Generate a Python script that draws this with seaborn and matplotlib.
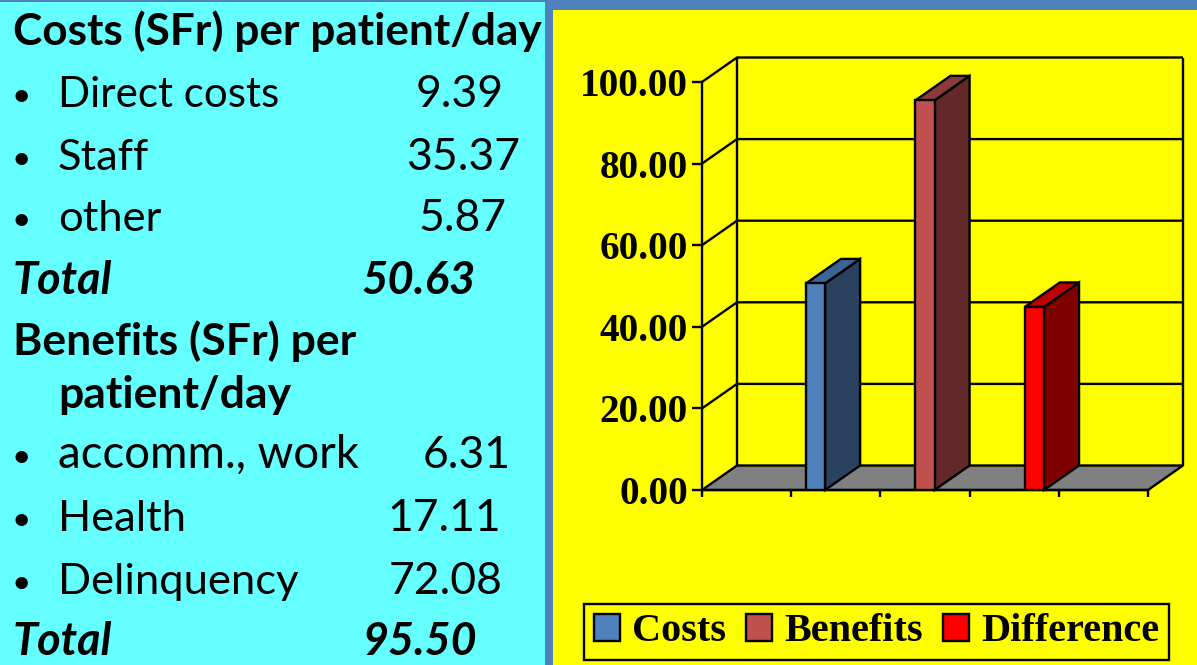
import matplotlib
matplotlib.use("Agg")
import matplotlib.pyplot as plt
import pandas as pd
import seaborn as sns
from matplotlib.patches import Polygon, Rectangle

# chart values
series = ["Costs", "Benefits", "Difference"]
values = [50.63, 95.50, 44.87]
front_colors = ["#4F81BD", "#C0504D", "#FF0000"]
side_colors = ["#2A4160", "#632829", "#800000"]
top_colors = ["#3A6594", "#8C3A3C", "#C00000"]
y_ticks = [0, 20, 40, 60, 80, 100]

# text panel
cost_labels = ["Direct costs", "Staff", "other"]
cost_values = ["9.39", "35.37", "5.87"]
benefit_labels = ["accomm., work", "Health", "Delinquency"]
benefit_values = ["6.31", "17.11", "72.08"]
cost_total = "50.63"
benefit_total = "95.50"

W, H = 1197, 665
sns.set_theme(style="white")
fig = plt.figure(figsize=(W / 100, H / 100), dpi=100, facecolor="#4F81BD")

# -----------------------------------------------------------
# Background panels and left-hand text, in pixel coordinates
# -----------------------------------------------------------
bg = fig.add_axes([0, 0, 1, 1])
bg.set_xlim(0, W)
bg.set_ylim(H, 0)
bg.axis("off")
bg.add_patch(Rectangle((0, 2), 545, H, fc="#66FFFF", ec="none"))
bg.add_patch(Rectangle((553, 10), W, H, fc="#FFFF00", ec="none"))

FONT = "Lato"


def put(x, y, s, size=31.3, **kw):
    bg.text(x, y, s, family=FONT, fontsize=size, color="black", va="baseline", **kw)


def row(y, label, value, value_x, label_size):
    put(21, y - 1, "•", size=24, ha="center")
    put(58, y, label, size=label_size)
    put(value_x, y, value, size=32)


put(13, 45, "Costs (SFr) per patient/day", size=31.8, weight="bold")
for y, lab, val, vx, ls in zip([107, 170, 231], cost_labels, cost_values, [416, 406, 418], [30.3, 31.3, 31.3]):
    row(y, lab, val, vx, ls)
put(13, 294, "Total", size=32.4, weight="bold", style="italic")
put(362, 294, cost_total, size=32.8, weight="bold", style="italic")
put(13, 355, "Benefits (SFr) per", size=32, weight="bold")
put(58, 408, "patient/day", size=32, weight="bold")
for y, lab, val, vx, ls in zip([468, 531, 594], benefit_labels, benefit_values, [423, 387, 389], [32.8, 31.3, 31.3]):
    row(y, lab, val, vx, ls)
put(13, 655, "Total", size=32.4, weight="bold", style="italic")
put(363, 655, benefit_total, size=32.2, weight="bold", style="italic")

# -----------------------------------------------------------
# Bar chart, axes box placed on the front plane of the 3D look
# -----------------------------------------------------------
left, right, top, bottom = 702, 1148, 82, 490
ax = fig.add_axes([left / W, 1 - bottom / H, (right - left) / W, (bottom - top) / H])
ax.patch.set_alpha(0)

df = pd.DataFrame({"series": series, "value": values})
sns.barplot(
    data=df, x="series", y="value", hue="series", palette=front_colors, saturation=1,
    width=0.175, dodge=False, legend=True, edgecolor="black", linewidth=1.7, ax=ax,
)

ax.set_xlim(-1.037, 3.037)
ax.set_ylim(0, 100)
x0, x1 = ax.get_xlim()
step = (x1 - x0) / 5
ax.set_xticks([x0 + i * step for i in range(6)], [""] * 6)
ax.set_yticks(y_ticks, [f"{t:.2f}" for t in y_ticks])
ax.set_xlabel("")
ax.set_ylabel("")
sns.despine(ax=ax)
lw = 1.7
for s in ["left", "bottom"]:
    ax.spines[s].set_linewidth(lw)
    ax.spines[s].set_color("black")
ax.tick_params(axis="y", length=7, width=lw, color="black", pad=3, left=True)
ax.tick_params(axis="x", length=5, width=lw, color="black", bottom=True)
for t in ax.get_yticklabels():
    t.set_family("Liberation Serif")
    t.set_fontweight("bold")
    t.set_fontsize(28.3)
    t.set_color("black")

# depth of the fake 3D, 35 px right and 24.5 px up, in data units
sx = (x1 - x0) / (right - left)
sy = 100 / (bottom - top)
dx, dy = 35 * sx, 24.5 * sy


def face(points, fc, z):
    ax.add_patch(Polygon(points, closed=True, fc=fc, ec="black", lw=lw, clip_on=False, zorder=z))


def line(xs, ys, z=1.5):
    ax.plot(xs, ys, color="black", lw=lw, clip_on=False, zorder=z, solid_capstyle="butt")


face([(x0, 0), (x1, 0), (x1 + dx, dy), (x0 + dx, dy)], "#808080", 1)
for t in y_ticks[1:]:
    line([x0, x0 + dx, x1 + dx], [t, t + dy, t + dy])
line([x0 + dx, x0 + dx], [dy, 100 + dy])
line([x1 + dx, x1 + dx], [dy, 100 + dy])

for bar, side, cap in zip(ax.patches, side_colors, top_colors):
    a, w, h = bar.get_x(), bar.get_width(), bar.get_height()
    b = a + w
    face([(b, 0), (b + dx, dy), (b + dx, h + dy), (b, h)], side, 3)
    face([(a, h), (b, h), (b + dx, h + dy), (a + dx, h + dy)], cap, 3)
    bar.set_zorder(4)

leg = ax.legend(
    loc="lower left", bbox_to_anchor=(584 / W, 1 - 660 / H), bbox_transform=fig.transFigure,
    ncol=3, frameon=True, fancybox=False, facecolor="#FFFF00", edgecolor="black", framealpha=1,
    prop={"family": "Liberation Serif", "weight": "bold", "size": 29},
    handlelength=0.65, handleheight=0.65, handletextpad=0.3, columnspacing=0.5,
    borderpad=0.24, borderaxespad=0,
)
leg.get_frame().set_linewidth(lw)
for t in leg.get_texts():
    t.set_color("black")

fig.savefig("out.png", dpi=100, facecolor=fig.get_facecolor())
